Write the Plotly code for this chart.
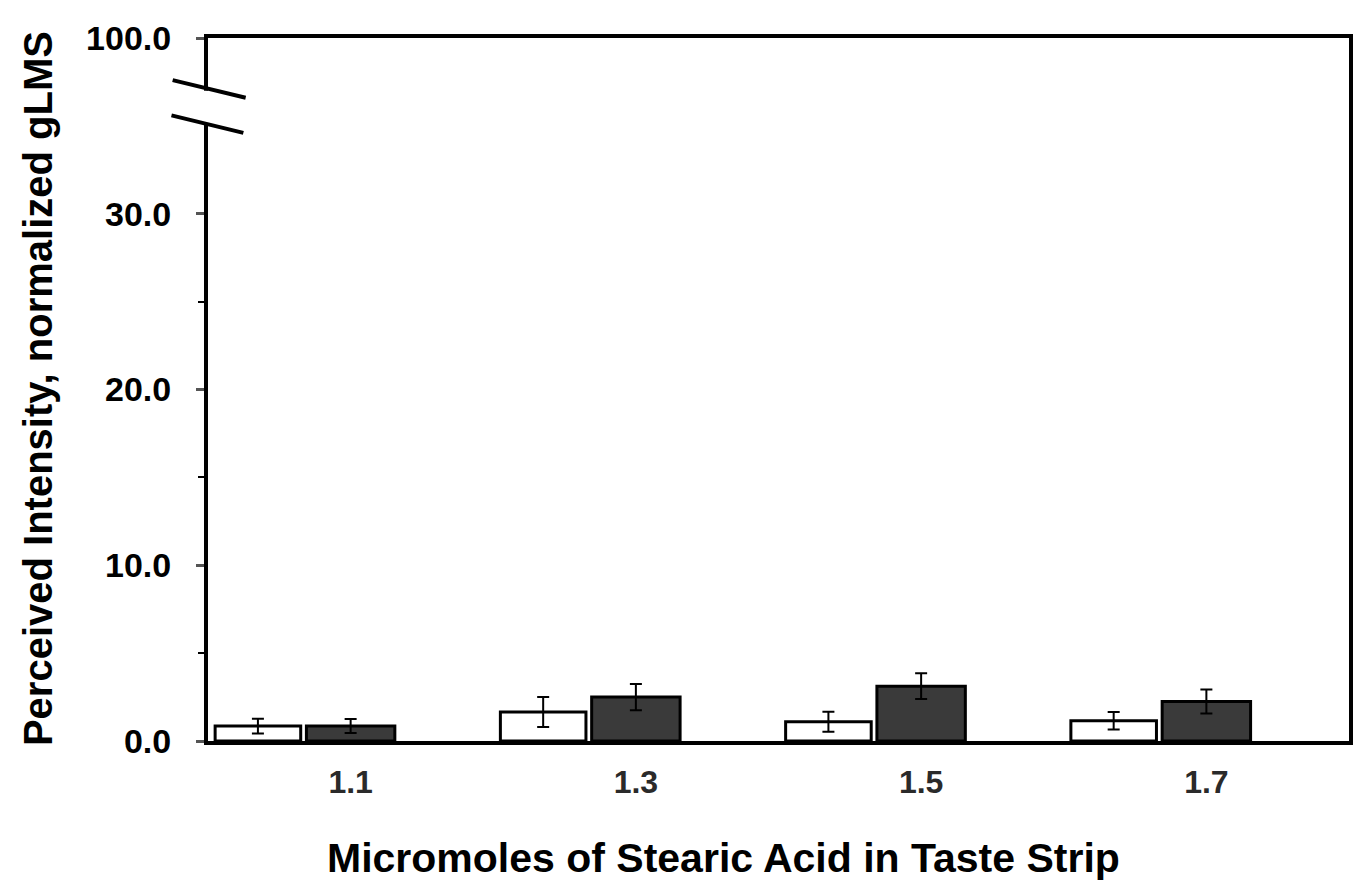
import plotly.graph_objects as go

# Data
categories = ["1.1", "1.3", "1.5", "1.7"]
series_a = [0.85, 1.65, 1.10, 1.15]      # white bars
series_a_err = [0.42, 0.85, 0.57, 0.50]
series_b = [0.85, 2.50, 3.12, 2.25]      # dark bars
series_b_err = [0.40, 0.75, 0.73, 0.68]

y_tickvals = [0, 10, 20, 30, 40]
y_ticktext = ["0.0", "10.0", "20.0", "30.0", "100.0"]
y_minor = [5, 15, 25]

FONT = "Liberation Sans, Arial, sans-serif"

fig = go.Figure()
fig.add_trace(go.Bar(
    x=categories, y=series_a, name="A",
    marker=dict(color="white", line=dict(color="black", width=3)),
    width=0.30, offset=-0.475,
    error_y=dict(type="data", array=series_a_err, color="black", thickness=2, width=6),
))
fig.add_trace(go.Bar(
    x=categories, y=series_b, name="B",
    marker=dict(color="#3a3a3a", line=dict(color="black", width=3)),
    width=0.31, offset=-0.155,
    error_y=dict(type="data", array=series_b_err, color="black", thickness=2, width=6),
))

fig.update_layout(
    width=1355, height=874,
    margin=dict(l=200, r=10, t=30, b=141),
    paper_bgcolor="white", plot_bgcolor="white",
    showlegend=False,
    font=dict(family=FONT, color="black"),
    barmode="overlay",
)

fig.update_xaxes(
    type="category", range=[-0.5, 3.5],
    showline=True, linewidth=4, linecolor="black", mirror=True,
    ticks="", showgrid=False,
    tickfont=dict(size=32, family=FONT, color="#2a2a2a", weight="bold"),
    ticklabelstandoff=10,
)
fig.update_yaxes(
    range=[0, 40], tickmode="array", tickvals=y_tickvals, ticktext=y_ticktext,
    showline=True, linewidth=4, linecolor="black", mirror=True,
    ticks="outside", ticklen=8, tickwidth=3, tickcolor="#555",
    minor=dict(tickmode="array", tickvals=y_minor, ticks="outside", ticklen=6, tickwidth=2, tickcolor="black"),
    showgrid=False, zeroline=False,
    tickfont=dict(size=34, family=FONT, color="black", weight="bold"),
    ticklabelstandoff=18,
)

# Axis break on the left axis
fig.add_shape(type="rect", xref="x domain", yref="y", x0=-0.008, x1=0.008, y0=35.15, y1=37.0,
              fillcolor="white", line=dict(width=0), layer="above")
fig.add_shape(type="line", xref="x domain", yref="y", x0=-0.031, x1=0.033, y0=37.6, y1=36.6,
              line=dict(color="black", width=4), layer="above")
fig.add_shape(type="line", xref="x domain", yref="y", x0=-0.032, x1=0.031, y0=35.6, y1=34.6,
              line=dict(color="black", width=4), layer="above")

# Axis titles
fig.add_annotation(text="<b>Perceived Intensity, normalized gLMS</b>", xref="paper", yref="paper",
                   x=-0.149, y=0.502, xanchor="center", yanchor="middle",
                   textangle=-90, showarrow=False,
                   font=dict(size=40, family=FONT, color="black"))
fig.add_annotation(text="<b>Micromoles of Stearic Acid in Taste Strip</b>", xref="paper", yref="paper",
                   x=0.4515, y=-0.166, xanchor="center", yanchor="middle", showarrow=False,
                   font=dict(size=41, family=FONT, color="black"))

fig.write_html("out.html")
